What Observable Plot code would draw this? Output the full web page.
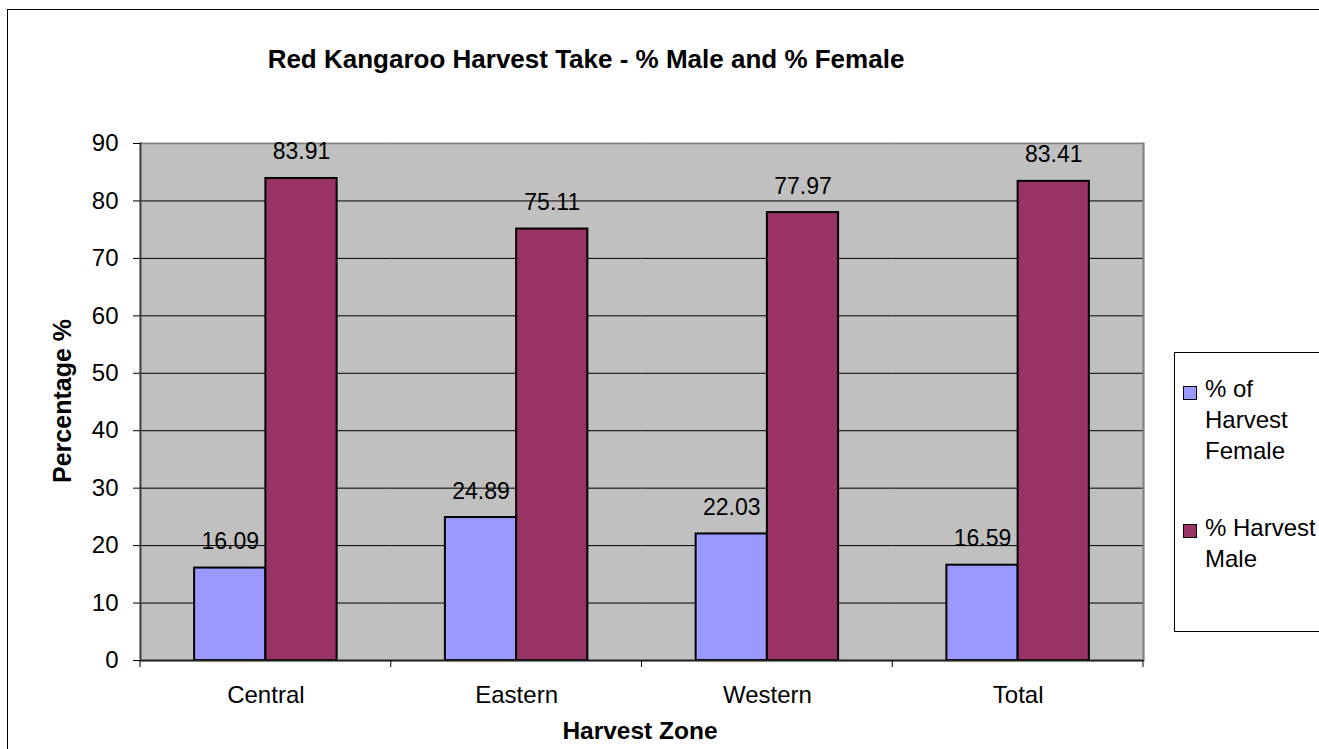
<!DOCTYPE html>
<html><head><meta charset="utf-8">
<script src="https://cdn.jsdelivr.net/npm/d3@7"></script>
<script src="https://cdn.jsdelivr.net/npm/@observablehq/plot@0.6"></script>
<style>
html,body{margin:0;padding:0;background:#fff;overflow:hidden;}
#wrap{position:relative;width:1319px;height:749px;overflow:hidden;font-family:"Liberation Sans",Arial,sans-serif;color:#000;}
#border{position:absolute;left:7px;top:9px;width:1400px;height:800px;border:1.5px solid #000;box-sizing:border-box;}
#chart{position:absolute;left:0;top:0;}
#overlay{position:absolute;left:0;top:0;pointer-events:none;}
#legend{position:absolute;left:1174px;top:352px;width:200px;height:280px;border:1px solid #000;box-sizing:border-box;background:#fff;}
.item{position:absolute;left:8px;display:flex;align-items:flex-start;}
.sw{width:14px;height:14px;border:1.5px solid #000;box-sizing:border-box;margin-right:8px;}
.lab{width:125px;font-size:24px;line-height:31px;}
</style></head>
<body>
<div id="wrap">
  <div id="border"></div>
  <div id="chart"></div>
  <svg id="overlay" width="1319" height="749"></svg>
  <div id="legend"></div>
</div>
<script>
const zones = ["Central", "Eastern", "Western", "Total"];
const series = ["% of Harvest Female", "% Harvest Male"];
const female = [16.09, 24.89, 22.03, 16.59];
const male = [83.91, 75.11, 77.97, 83.41];
const yTicks = [0, 10, 20, 30, 40, 50, 60, 70, 80, 90];
const colors = ["#9999FF", "#993366"];
const title = "Red Kangaroo Harvest Take - % Male and % Female";
const yTitle = "Percentage %";
const xTitle = "Harvest Zone";

const data = zones.flatMap((z, i) => [
  {zone: z, series: series[0], value: female[i]},
  {zone: z, series: series[1], value: male[i]}
]);

const W = 1319, H = 749;
const mL = 140, mR = 176, mT = 143, mB = 89;

const plot = Plot.plot({
  width: W, height: H,
  marginLeft: mL, marginRight: mR, marginTop: mT, marginBottom: mB,
  style: {fontFamily: '"Liberation Sans", Arial, sans-serif', fontSize: "24px", color: "#000", background: "transparent", overflow: "visible"},
  fx: {domain: zones, padding: 0, round: false, label: null},
  x: {domain: series, paddingInner: 0, paddingOuter: 0.76, round: false, axis: null},
  y: {domain: [0, 90]},
  color: {domain: series, range: colors},
  marks: [
    Plot.frame({fill: "#C0C0C0", stroke: "#C0C0C0", strokeWidth: 2}),
    Plot.ruleY(yTicks.slice(1, -1), {stroke: "#000", strokeWidth: 1}),
    Plot.ruleY([90], {stroke: "#808080", strokeWidth: 1.5}),
    Plot.frame({anchor: "right", facetAnchor: "right", stroke: "#808080", strokeWidth: 2}),
    Plot.barY(data, {fx: "zone", x: "series", y: "value", fill: "series", stroke: "#000", strokeWidth: 2}),
    Plot.ruleY([0], {stroke: "#222", strokeWidth: 2}),
    Plot.frame({anchor: "left", facetAnchor: "left", stroke: "#404040", strokeWidth: 2}),
    Plot.text(data, {fx: "zone", x: "series", y: "value", text: d => d.value.toFixed(2), dy: -19, lineAnchor: "bottom", fontSize: 23}),
    Plot.axisY({ticks: yTicks, tickSize: 7, tickPadding: 15, fontSize: 24, label: null, tickFormat: d => String(d)}),
    Plot.axisFx({anchor: "bottom", tickSize: 0, tickPadding: 25, fontSize: 24, label: null})
  ]
});
document.getElementById("chart").appendChild(plot);

// x-axis boundary ticks from the facet scale
const fx = plot.scale("fx");
const bw = fx.bandwidth;
const yS = plot.scale("y");
const y0 = yS.apply(0);
const bounds = zones.map(z => fx.apply(z)).concat([fx.apply(zones[zones.length - 1]) + bw]);
const svg = d3.select(plot.tagName.toLowerCase() === "svg" ? plot : plot.querySelector("svg"));
svg.append("g").selectAll("line").data(bounds).join("line")
  .attr("x1", d => d).attr("x2", d => d)
  .attr("y1", y0).attr("y2", y0 + 7)
  .attr("stroke", "#000").attr("stroke-width", 1);

// titles
const ov = d3.select("#overlay").style("font-family", '"Liberation Sans", Arial, sans-serif');
ov.append("text").attr("x", 586).attr("y", 68).attr("text-anchor", "middle")
  .attr("font-size", 26).attr("font-weight", "bold").text(title);
ov.append("text").attr("transform", "translate(71,401) rotate(-90)").attr("text-anchor", "middle")
  .attr("font-size", 25).attr("font-weight", "bold").text(yTitle);
ov.append("text").attr("x", 640).attr("y", 739).attr("text-anchor", "middle")
  .attr("font-size", 24.5).attr("font-weight", "bold").text(xTitle);

// legend
const lg = d3.select("#legend");
const tops = [20, 159];
const swOff = [13, 12];
series.forEach((s, i) => {
  const it = lg.append("div").attr("class", "item").style("top", tops[i] + "px");
  it.append("div").attr("class", "sw").style("background", colors[i]).style("margin-top", swOff[i] + "px");
  it.append("div").attr("class", "lab").text(s);
});
</script>
</body></html>
